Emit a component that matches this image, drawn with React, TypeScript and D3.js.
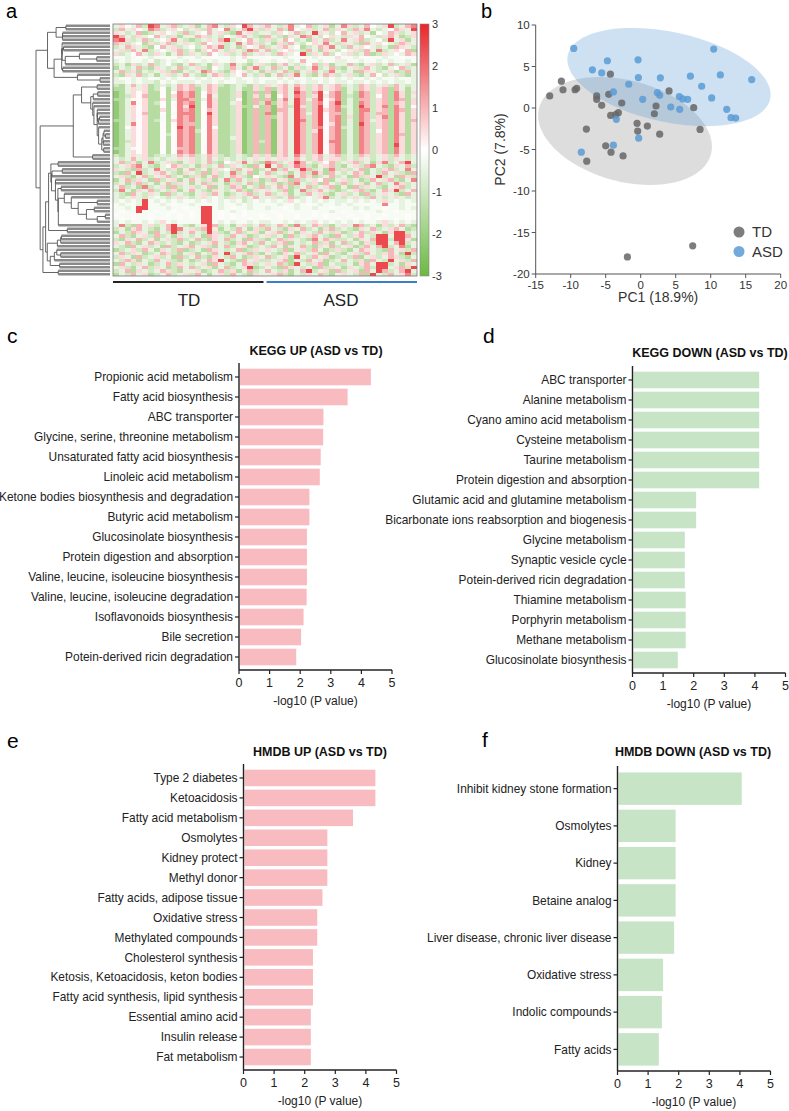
import React, { useMemo } from "react";
import * as d3 from "d3";

const FONT = "'Liberation Sans', Arial, Helvetica, sans-serif";

// ---------- panel a: heatmap, 26 TD + 26 ASD samples, rows ----------
// one letter per cell: G strong green ... w white ... R strong red
const heatLevels: Record<string, number> = {
  G: -2.2, g: -1.5, h: -0.95, l: -0.5, ".": -0.18, w: 0.05, p: 0.5, q: 1.0, r: 1.7, R: 2.5,
};
const heatRows = [
  "lpwlqhRrlpqhl pglqrlhpwRqlp qlhprlwqhlpgl rphlqwlpRhlqr",
  "hqlpwlrqhlpwh lphqlwrhlqRph plqhrwlphlqhp lhqprlhlwqplR",
  "plhlqghlpwlhq hlwqlphgrlphl lhpwlqhlRplhw qlphlgwlqphlp",
  "Rqlhplwqlhpgl lqphlhwlpqlhg qlhgplrqlhwpl hplqwlhpqlghp",
  "rRphlqhlwprlh ghlplqRhlwqlh phlqwhlgplqhl rlpqhlwhRlpgl",
  "qphlwgphlqhlp lhqwlphlrlqph lgphqlhwplrlh plhgqlpwlhqpl",
  "hlqplhgwqlphl whlqprhlgpwlq hlpqlwghlqprl hqlpwlhlgqplh",
  "lphqlrhlwlpqh lgpwqlhplhrql qhlwplhqlgplh wlphqlrhlpwqg",
  "phlwqlhplglqh plhqwlphlqhlp lhqplwRhplqhw lphlqghplwlqp",
  "..l.w.l..w.l. .l..w..l.p... w..l..w.l...p ..l.w..l..w..",
  "l.l..l.hl.l.l ..l.l..l..hl. .l..l.q..l..l l..l..l.l..l.",
  "hlgphlqhlwhgl qhlgplhrlhglp hgpqlhlwqhpgl lqhglphlqhlpg",
  "glhlqhgplhlqh lphgwlhqlgprh lqhlgphlrhlqh glphqlhglwqhl",
  "lqhpglhlphqgl hlrqlhgpwlhlg phlqhglpqlhrl hlgqplhlpghql",
  "hgplqhlglphlq lhglqphlwqlhp glqhprlhglqph lphglqwhlphgl",
  "l..l.l..l.l.. .l.l..l.l..l. ..l.l..l..l.l .l..l.l..l..l",
  "ll.l.llh.l.ll l.ll.l..ll.l. ll.l.l.ll.l.l l.ll.l.l.ll.l",
  "hglqlpghlhlqp qhlqphghlhgph plpqlqphpqlpq hlhqphlphqlhl",
  "gglplpghwglqp qglqpgghlggph qgpqlrphpqlpq glhqphpqgqlgl",
  "Gglpwpggwgwrq rgwqpgghpGgqg qGpqlRqhqRwqr glgrqhpqgrpgp",
  "Gghpwqggwgprq rgwrlgghpGgpg pGwqlrqhpRlqr ghgrqhwqgrpgl",
  "ggl.wpggpglrr qglrpgghwGgqg qGprlRqlqRwpr glgqqhpqgrqgp",
  "Gglrwpghwgwrq rgwrpgglpGgqh rgpqlRqhqrwqR glgrqhpqgqpgp",
  "Gglpwpggwgwrp Rgwrpgghpgglg qGpqhRphqRwqr hlgRqhprgrpgw",
  "Gglpwpggpgwrq rgwqpgghpGgqg qGqqlRqhqRpqr glgrrhpqgrqgp",
  "Gglpwqggwg.rr rgwRpgghpGgqg rGpqlRqlqRwqq glgrqhqqgrpgp",
  "Gglpwpgg.gwrq rgwrpgghpGgqg qgpqlRqhqRwqr gpgrqhprgrpgp",
  "gglpwpgh.gprq rgwrpgghpGgqg qGpqlRrhqRwqr glgrqlpqgrpgq",
  "Gglrwpggwgwrq qgwrpgghpGgqg qGpqlRqhqRwpr glgRqhpqgrpgp",
  "GgwpwpggwgwRq rgwrwgghpGgqg qGpqlRqhqrwqr hlgrqhpqgrpgp",
  "Gglpwpggwgwrq rhwrpgghpGgqg qGpqlRqhpRwqr glgrqhwqgrpgp",
  "Gglpwpggwhwrq rgwrpgghpGgqg qGpqlRqhqRwqr glgrqhpqgrqgp",
  "Gglpwpggwgwrq rgwrpgglpGgqg qGpqlRqhqRwqr glgrqhpqgrpgp",
  "Gghpwpggwgwrq rgwrpgghpGgqh qGpqlRqhqRwrr glgrqhpqgrpgp",
  "Gglpwpggwgwrq rgwrpgghpGgqg qGpqlRqhqRwqr glgrqhpqgRpgp",
  "ggl.wpggwgwqq rgwrpgghpGgqg qGpqlRqhqRwqr glgrqhpqgrpgp",
  "Gglpwpggwgwrq rgwrpgghpGgqg qGpqlRqhqRwqr glgrqhpqgrpgp",
  "hglplpghlhlqp qhlqphghlhgph pgpqlrphpqlpq hlhqphlphqlhl",
  "lhlqlphlhllpl phlqlhlhlhlpl plpplqlhpqlpp hlhplhlphplhl",
  "lqhpglrhlphgl phlqhgwlprlhg rqhlpRqlhpwqh lpqhlgprhlqRl",
  "hlpqrlhglwqph lgphlqhplhgql Rlqhprqhglpqh glphqrlhgplqh",
  "plhgqhlrlhpgl qhlgplwhqlpgh lrhqlpRqhlgrh phlqglhpqhlrl",
  "hgqlRhlpqlhgp lhqgphlrhlqgl qhlpglqhrpgql hlqpglhqlphgq",
  "lphglqhlpqhlg hpglqhlqphgwl plhgrlqpghlqh lgqhplRhlgqph",
  "glqhplgqhlpgl qlhpglrhqlhpg hqlpgqhlpwqgl phlghqlpqhglr",
  "hlgpqhlglqhpl glqhplgphlqhg lpghqrlhpgqlh qhlpglqhlrphl",
  "lqhlgrhlpgqhl phlqglhqpglhq hlqpghlqhlpqg lgqhplhglpqhl",
  "hrlgplqhlhpgl qlhgplhlqhgpl plhqglrhpqlhg hlpqhglqpRhlq",
  "lhgqlhplgqhlh glphqlghlpqhl qhlpglhqlphgl phlgqhlplhgql",
  "lhlplhl.lhlpl hlpl.lhplhlql lphlqhl.lprhl hlplhqlhlplhl",
  "l.l.lR.l.l.l. .l.l.l.l.hl.l .l.lp.l.l.l.l l.l.l.lpl.l.l",
  ".l..lR..l.w.. l..w.l..l.l.. ..l..l.w.l..l .l..w..r..l..",
  "..l.RR...l..w ..RR.l.w..l.. l..w.l..l..w. ..l.l..w..l.l",
  ".w..Rw.w..w.. w.RR.w.l.w... .w..w...w..l. w..w..l..w...",
  "w..w..w..w.w. w.RR.w.w.w..w ..w..w..w.w.. .w..w..w...w.",
  ".w.w..w.w..w. w.RR.w.w..w.w w.w..w.w..w.w ..w.w.w..w.w.",
  "l.l..l.lp.l.. ..RR.l.l..l.l l..l.l.lp.l.l .l.l..lpl.l.l",
  "lrhgqlphlqRlh glpRqhlglphlq hlqpgrhlqphgl plrqhlgphlqhg",
  "hlgpqlhglqRrl phqRlglhqlgph qlhgplqhlgpqh lhgplqhlpqlgh",
  "glhqplgqlhRhl qlhRphglqhlpg lpqhlgplhqlhp ghlqhplgpRRhl",
  "lqhglphqhlgpl hlgqplhqlpghl phlgqhlpqlhgq lhpqlhRRlRRql",
  "hgplqhlglphqh lqhgplqhlgqph glqhplhgrlqph hlgplqRRhRRpg",
  "plqhglqphlhgl ghlpqlhgpqlhq lhpqglhlqhpgl qhlgphRRlqRhl",
  "lhgqlphlgqhlp qlphglqhlpghl hqlgplqhgplqh lpghqlqRhlrgl",
  "ghlphqlgplhqg hlgqplhlqghpl plhqglphqlghp hglqplhgqlphq",
  "lqhplghlqphgl pglhqlRhlpqhg lhgplqhlpgqlh glphqlhpqlgRh",
  "hplgqhlphlgqh lqhgplhqlghpl qhlpgRlhqlpgh lhqglphlqphgl",
  "lhqpglhqlphgl ghlqpRlhgqlph hlpqglhqlpghl qlhpgqlhRlphq",
  "gqlhplghlqhpl hlpgqlhglqphl plqhgRlhpqglh hlgpqlRRhlgpl",
  "lphglqhplghql qhlpglqhlpRgh lhgqplhlgqhpl gplhqhRRlpqhR",
  "hlqgplhlqphgl lpghlqhpglqhl qlhpglqRhlpgq hlpgqlRqhlqRl",
  "glhqlpghlqhlp hqlglphqlhgpl lpqhglhplqhgl plhqgRlhqlprh",
];
const nTD = 26;
const nASD = 26;
const colorbarTicks = [3, 2, 1, 0, -1, -2, -3];

// ---------- panel b: PCA scores ----------
const tdPC1 = [-13.0, -11.33, -11.1, -9.38, -9.14, -6.29, -6.29, -5.57, -4.33, -4.57, -2.71, -4.29, -3.57, -3.19, -7.76, -7.71, -5.0, -4.24, -2.52, -0.52, -0.43, 0.95, 2.19, 1.95, 2.71, 4.05, 7.57, 8.48, -1.9, 7.43];
const tdPC2 = [1.45, 3.23, 2.2, 2.2, 2.38, 1.45, 1.05, 0.32, 4.07, 1.65, 0.6, -0.89, -0.8, -0.56, -2.54, -6.41, -4.56, -5.32, -5.77, -1.85, -2.78, -2.18, 0.24, -0.69, -3.15, 2.06, 0.04, -2.58, -17.94, -16.6];
const asdPC1 = [-9.57, -8.48, -6.9, -5.57, -4.76, -3.9, -3.48, -3.9, -1.71, -0.38, -0.33, 0.29, -0.29, 2.81, 2.38, 2.71, 4.29, 5.52, 6.0, 6.71, 5.57, 7.1, 8.71, 10.43, 10.14, 11.38, 12.29, 12.9, 13.57, 15.86];
const asdPC2 = [7.18, -5.32, 4.6, 4.23, 5.69, 1.94, -1.37, -4.48, 2.86, 5.81, 3.67, 1.05, -3.63, 3.63, 1.85, 1.53, 0.12, 1.37, 1.09, 1.05, -0.16, 3.83, 2.62, 7.1, 1.21, 3.99, -0.16, -1.17, -1.21, 3.43];
// ellipse: centre x, centre y, then two conjugate half-diameters (in PC units)
const tdEllipse = [-2.24, -2.77, 12.27, -2.81, -1.89, -5.87];
const asdEllipse = [4.04, 3.73, 14.46, -2.63, -1.35, -5.3];

// ---------- panels c-f: enrichment ----------
const keggUpLabels = [
  "Propionic acid metabolism", "Fatty acid biosynthesis", "ABC transporter",
  "Glycine, serine, threonine metabolism", "Unsaturated fatty acid biosynthesis",
  "Linoleic acid metabolism", "Ketone bodies biosynthesis and degradation",
  "Butyric acid metabolism", "Glucosinolate biosynthesis", "Protein digestion and absorption",
  "Valine, leucine, isoleucine biosynthesis", "Valine, leucine, isoleucine degradation",
  "Isoflavonoids biosynthesis", "Bile secretion", "Potein-derived ricin degradation",
];
const keggUpValues = [4.31, 3.55, 2.76, 2.75, 2.67, 2.64, 2.3, 2.3, 2.22, 2.22, 2.22, 2.21, 2.11, 2.03, 1.87];

const keggDownLabels = [
  "ABC transporter", "Alanine metabolism", "Cyano amino acid metabolism", "Cysteine metabolism",
  "Taurine metabolism", "Protein digestion and absorption", "Glutamic acid and glutamine metabolism",
  "Bicarbonate ions reabsorption and biogenesis", "Glycine metabolism", "Synaptic vesicle cycle",
  "Potein-derived ricin degradation", "Thiamine metabolism", "Porphyrin metabolism",
  "Methane metabolism", "Glucosinolate biosynthesis",
];
const keggDownValues = [4.14, 4.14, 4.14, 4.14, 4.14, 4.14, 2.08, 2.08, 1.71, 1.71, 1.71, 1.74, 1.74, 1.74, 1.48];

const hmdbUpLabels = [
  "Type 2 diabetes", "Ketoacidosis", "Fatty acid metabolism", "Osmolytes", "Kidney protect",
  "Methyl donor", "Fatty acids, adipose tissue", "Oxidative stress", "Methylated compounds",
  "Cholesterol synthesis", "Ketosis, Ketoacidosis, keton bodies", "Fatty acid synthesis, lipid synthesis",
  "Essential amino acid", "Insulin release", "Fat metabolism",
];
const hmdbUpValues = [4.31, 4.31, 3.58, 2.74, 2.74, 2.74, 2.58, 2.41, 2.41, 2.27, 2.27, 2.27, 2.2, 2.2, 2.2];

const hmdbDownLabels = [
  "Inhibit kidney stone formation", "Osmolytes", "Kidney", "Betaine analog",
  "Liver disease, chronic liver disease", "Oxidative stress", "Indolic compounds", "Fatty acids",
];
const hmdbDownValues = [4.06, 1.9, 1.9, 1.9, 1.85, 1.49, 1.45, 1.35];

const PINK = "#f8bbbf";
const GREEN = "#c7e4c6";

// adjacency-constrained complete-linkage clustering, keeps the row order of the heatmap
type Node = { members: number[]; pos: number; h: number; kids: Node[] | null };
function clusterRows(m: number[][]): Node {
  const dist = m.map((a) => m.map((b) => Math.sqrt(d3.sum(a, (v, k) => (v - b[k]) ** 2))));
  const nodes: Node[] = m.map((_, i) => ({ members: [i], pos: i, h: 0, kids: null }));
  while (nodes.length > 1) {
    let best = 0;
    let bestD = Infinity;
    for (let i = 0; i < nodes.length - 1; i++) {
      let d = 0;
      for (const a of nodes[i].members) for (const b of nodes[i + 1].members) d = Math.max(d, dist[a][b]);
      if (d < bestD) { bestD = d; best = i; }
    }
    const A = nodes[best], B = nodes[best + 1];
    nodes.splice(best, 2, {
      members: A.members.concat(B.members),
      pos: (A.pos + B.pos) / 2,
      h: Math.max(bestD, A.h, B.h),
      kids: [A, B],
    });
  }
  return nodes[0];
}

function Heatmap() {
  const matrix = useMemo(
    () =>
      heatRows.map((s) => {
        const t = s.replace(/\s/g, "");
        return d3.range(nTD + nASD).map((j) => heatLevels[t[j]] ?? -0.5);
      }),
    []
  );
  const root = useMemo(() => clusterRows(matrix), [matrix]);

  const x = d3.scaleBand<number>().domain(d3.range(nTD + nASD)).range([113, 417]);
  const y = d3.scaleBand<number>().domain(d3.range(matrix.length)).range([24, 276]);
  const color = d3
    .scaleLinear<string>()
    .domain([-3, 0, 3])
    .range(["#6cb843", "#ffffff", "#e8262b"])
    .clamp(true);
  const cy = d3.scaleLinear().domain([-3, 3]).range([276, 24]);
  const hx = d3.scaleLinear().domain([0, root.h]).range([110, 36]);
  const rowY = (p: number) => 24 + (p + 0.5) * y.step();

  // inner: tree branches, leaf: the lines that run into the heatmap rows
  const inner: [number, number, number, number][] = [];
  const leaf: [number, number, number, number][] = [];
  const walk = (nd: Node) => {
    if (!nd.kids) return;
    const xn = hx(nd.h);
    const [a, b] = nd.kids;
    inner.push([xn, rowY(a.pos), xn, rowY(b.pos)]);
    for (const k of [a, b]) (k.kids ? inner : leaf).push([xn, rowY(k.pos), hx(k.h), rowY(k.pos)]);
    walk(a);
    walk(b);
  };
  walk(root);

  const tdEnd = (x(nTD - 1) as number) + x.bandwidth();
  const stops = [...colorbarTicks].sort((a, b) => a - b);
  return (
    <g>
      <text x={6} y={18} fontSize={20}>a</text>
      <g stroke="#8a8a8a" strokeWidth={2.4}>
        {leaf.map((s, i) => (
          <line key={i} x1={s[0]} y1={s[1]} x2={s[2]} y2={s[3]} />
        ))}
      </g>
      <g stroke="#555" strokeWidth={0.9}>
        {inner.map((s, i) => (
          <line key={i} x1={s[0]} y1={s[1]} x2={s[2]} y2={s[3]} />
        ))}
      </g>
      <g shapeRendering="crispEdges">
        {matrix.map((row, i) =>
          row.map((v, j) => (
            <rect
              key={i + "-" + j}
              x={x(j)}
              y={y(i)}
              width={x.bandwidth() + 0.4}
              height={y.bandwidth() + 0.4}
              fill={color(v)}
            />
          ))
        )}
      </g>
      <rect x={113} y={24} width={304} height={252} fill="none" stroke="#777" strokeWidth={0.8} />
      <defs>
        <linearGradient id="cbar" x1="0" y1="1" x2="0" y2="0">
          {stops.map((t) => (
            <stop key={t} offset={(t + 3) / 6} stopColor={color(t)} />
          ))}
        </linearGradient>
      </defs>
      <rect x={420} y={24} width={9} height={252} fill="url(#cbar)" stroke="#888" strokeWidth={0.6} />
      {colorbarTicks.map((t) => (
        <text key={t} x={432} y={cy(t)} dy="0.35em" fontSize={11} fill="#333">
          {t}
        </text>
      ))}
      <line x1={113} x2={tdEnd - 1.5} y1={282} y2={282} stroke="#222" strokeWidth={2} />
      <line x1={tdEnd + 1.5} x2={417} y1={282} y2={282} stroke="#3b80c6" strokeWidth={2} />
      <text x={(113 + tdEnd) / 2} y={306} textAnchor="middle" fontSize={17} fill="#222">TD</text>
      <text x={(tdEnd + 417) / 2} y={306} textAnchor="middle" fontSize={17} fill="#222">ASD</text>
    </g>
  );
}

function PcaPlot() {
  const x = d3.scaleLinear().domain([-15, 20]).range([535.7, 780.7]);
  const y = d3.scaleLinear().domain([-20, 10]).range([274, 25]);
  const ell = (e: number[]) => {
    const pts = d3.range(0, 121).map((k) => {
      const t = (k / 120) * 2 * Math.PI;
      return [
        x(e[0] + e[2] * Math.cos(t) + e[4] * Math.sin(t)),
        y(e[1] + e[3] * Math.cos(t) + e[5] * Math.sin(t)),
      ] as [number, number];
    });
    return d3.line()(pts) + "Z";
  };
  const axisCol = "#555";
  return (
    <g>
      <text x={481} y={18} fontSize={20}>b</text>
      <path d={ell(tdEllipse)} fill="rgb(120,120,120)" fillOpacity={0.25} />
      <path d={ell(asdEllipse)} fill="rgb(91,155,213)" fillOpacity={0.3} />
      {tdPC1.map((v, i) => (
        <circle key={"t" + i} cx={x(v)} cy={y(tdPC2[i])} r={3.6} fill="#666" fillOpacity={0.85} />
      ))}
      {asdPC1.map((v, i) => (
        <circle key={"a" + i} cx={x(v)} cy={y(asdPC2[i])} r={3.6} fill="#5b9bd5" fillOpacity={0.85} />
      ))}
      <line x1={x(-15)} x2={x(-15)} y1={y(10)} y2={y(-20)} stroke={axisCol} />
      <line x1={x(-15)} x2={x(20)} y1={y(-20)} y2={y(-20)} stroke={axisCol} />
      {d3.range(-15, 21, 5).map((t) => (
        <g key={"x" + t}>
          <line x1={x(t)} x2={x(t)} y1={y(-20)} y2={y(-20) + 4} stroke={axisCol} />
          <text x={x(t)} y={y(-20) + 15} textAnchor="middle" fontSize={11.5} fill="#333">{t}</text>
        </g>
      ))}
      {d3.range(-20, 11, 5).map((t) => (
        <g key={"y" + t}>
          <line x1={x(-15) - 4} x2={x(-15)} y1={y(t)} y2={y(t)} stroke={axisCol} />
          <text x={x(-15) - 6} y={y(t)} dy="0.35em" textAnchor="end" fontSize={11.5} fill="#333">{t}</text>
        </g>
      ))}
      <text x={(x(-15) + x(20)) / 2} y={302} textAnchor="middle" fontSize={14} fill="#333">PC1 (18.9%)</text>
      <text transform={`translate(505,${(y(-20) + y(10)) / 2}) rotate(-90)`} textAnchor="middle" fontSize={14} fill="#333">
        PC2 (7.8%)
      </text>
      <circle cx={739} cy={232} r={5.5} fill="#666" fillOpacity={0.85} />
      <circle cx={739} cy={251.5} r={5.5} fill="#5b9bd5" fillOpacity={0.85} />
      <text x={752} y={232} dy="0.36em" fontSize={15} fill="#333">TD</text>
      <text x={752} y={251.5} dy="0.36em" fontSize={15} fill="#333">ASD</text>
    </g>
  );
}

type BarProps = {
  letter: string; letterX: number; letterY: number;
  title: string; titleX: number; titleY: number;
  labels: string[]; values: number[]; fill: string;
  x0: number; top: number; bottom: number; pad: number;
};
function BarPanel(p: BarProps) {
  const x = d3.scaleLinear().domain([0, 5]).range([p.x0, p.x0 + 153]);
  const y = d3.scaleBand<string>().domain(p.labels).range([p.top, p.bottom]).paddingInner(p.pad).paddingOuter(p.pad / 2);
  const axisY = p.bottom + 3;
  const ink = "#222";
  return (
    <g>
      <text x={p.letterX} y={p.letterY} fontSize={21}>{p.letter}</text>
      <text x={p.titleX} y={p.titleY} textAnchor="middle" fontSize={12.5} fontWeight="bold" fill="#111">{p.title}</text>
      {p.labels.map((l, i) => (
        <rect key={l} x={x(0) + 1} y={y(l)} width={x(p.values[i]) - x(0) - 1} height={y.bandwidth()} fill={p.fill} />
      ))}
      <line x1={p.x0} x2={p.x0} y1={p.top - 4} y2={axisY} stroke={ink} strokeWidth={1.4} />
      <line x1={p.x0} x2={x(5)} y1={axisY} y2={axisY} stroke={ink} strokeWidth={1.4} />
      {p.labels.map((l) => {
        const c = (y(l) as number) + y.bandwidth() / 2;
        return (
          <g key={"t" + l}>
            <line x1={p.x0 - 4} x2={p.x0} y1={c} y2={c} stroke={ink} strokeWidth={1.2} />
            <text x={p.x0 - 6} y={c} dy="0.35em" textAnchor="end" fontSize={11.9} fill={ink}>{l}</text>
          </g>
        );
      })}
      {x.ticks(5).map((t) => (
        <g key={"x" + t}>
          <line x1={x(t)} x2={x(t)} y1={axisY} y2={axisY + 4} stroke={ink} strokeWidth={1.2} />
          <text x={x(t)} y={axisY + 17} textAnchor="middle" fontSize={12.5} fill={ink}>{t}</text>
        </g>
      ))}
      <text x={(x(0) + x(5)) / 2} y={axisY + 35} textAnchor="middle" fontSize={12} fill={ink}>-log10 (P value)</text>
    </g>
  );
}

export default function App() {
  return (
    <svg
      width={789}
      height={1111}
      style={{ position: "absolute", left: 0, top: 0, background: "#fff" }}
      fontFamily={FONT}
    >
      <Heatmap />
      <PcaPlot />
      <BarPanel letter="c" letterX={7} letterY={343} title="KEGG UP (ASD vs TD)" titleX={316} titleY={355}
        labels={keggUpLabels} values={keggUpValues} fill={PINK} x0={239} top={367} bottom={667} pad={0.17} />
      <BarPanel letter="d" letterX={483} letterY={343} title="KEGG DOWN (ASD vs TD)" titleX={710} titleY={357}
        labels={keggDownLabels} values={keggDownValues} fill={GREEN} x0={632.5} top={370} bottom={670} pad={0.17} />
      <BarPanel letter="e" letterX={7} letterY={748} title="HMDB UP (ASD vs TD)" titleX={320} titleY={756}
        labels={hmdbUpLabels} values={hmdbUpValues} fill={PINK} x0={243.5} top={768} bottom={1067} pad={0.17} />
      <BarPanel letter="f" letterX={482} letterY={747} title="HMDB DOWN (ASD vs TD)" titleX={693} titleY={756}
        labels={hmdbDownLabels} values={hmdbDownValues} fill={GREEN} x0={617.5} top={770} bottom={1068} pad={0.13} />
    </svg>
  );
}
